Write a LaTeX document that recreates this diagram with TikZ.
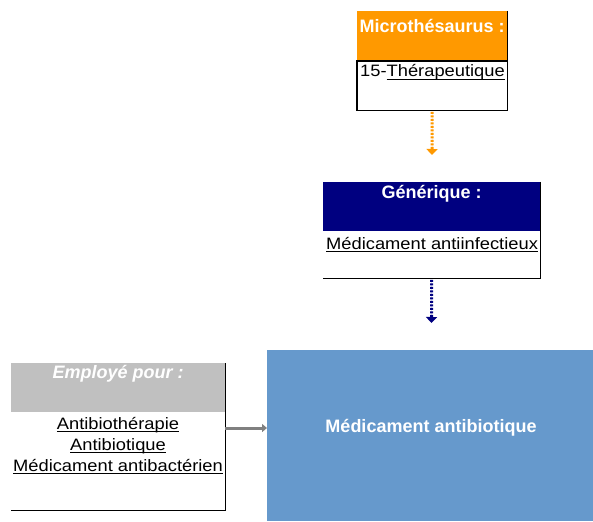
\documentclass[tikz,border=0pt]{standalone}
\usepackage{fontspec}
\setmainfont{Liberation Sans}
\newfontfamily\bodyfont[FakeStretch=1.11]{Liberation Sans}
\usetikzlibrary{arrows.meta}
\definecolor{mthorange}{HTML}{FF9900}
\definecolor{gennavy}{HTML}{000080}
\definecolor{empgray}{HTML}{C0C0C0}
\definecolor{mainblue}{HTML}{6699CC}
\definecolor{arrowgray}{HTML}{808080}
\newcommand\ulx[1]{\setbox0\hbox{#1}\rlap{\rule[-2.6pt]{\wd0}{0.9pt}}\box0}
\begin{document}
\begin{tikzpicture}[x=1pt,y=-1pt,
  headbox/.style={rectangle, inner sep=0pt, anchor=north west, text=white,
    font=\fontsize{18}{21}\selectfont\bfseries},
  bodybox/.style={rectangle, inner sep=0pt, anchor=north west, fill=white},
  bodytext/.style={inner sep=0pt, text=black, font=\bodyfont\fontsize{16.5}{19}\selectfont},
  frameline/.style={draw=black, line width=1.3pt},
  dotarrow/.style={line width=3pt, dash pattern=on 2pt off 1.5pt, shorten <=1.5pt,
    -{Triangle[width=11pt,length=6pt]}},
  solidarrow/.style={line width=3pt, draw=arrowgray,
    -{Triangle[width=8pt,length=5pt]}}
]
\useasboundingbox (0,0) rectangle (593,521);

% Microthesaurus
\node[headbox, fill=mthorange, minimum width=150pt, text height=21pt, text depth=29pt]
  (mhead) at (357,11) {Microthésaurus :};
\node[bodybox, minimum width=150pt, minimum height=49pt] (mbody) at (357,61) {};
\node[bodytext, anchor=base west] (mtext) at (360,77) {15-\ulx{Thérapeutique}};
\draw[frameline] (mbody.north west) rectangle (mbody.south east);
\draw[frameline] (mhead.north east) -- (mbody.north east);
\coordinate (mend) at (432,155);
\draw[dotarrow, draw=mthorange, fill=mthorange] (mbody.south) -- (mend);

% Generique
\node[headbox, fill=gennavy, minimum width=217pt, text height=16pt, text depth=33pt]
  (ghead) at (323,182) {Générique :};
\node[bodybox, minimum width=217pt, minimum height=47pt] (gbody) at (323,231) {};
\node[bodytext, anchor=base west] (gtext) at (326,249) {\ulx{Médicament antiinfectieux}};
\draw[frameline] (ghead.north east) -- (gbody.south east) -- (gbody.south west);
\coordinate (gend) at (431.5,323);
\draw[dotarrow, draw=gennavy, fill=gennavy] (gbody.south) -- (gend);

% Employe pour
\node[headbox, fill=empgray, minimum width=214pt, text height=15pt, text depth=34pt,
  font=\fontsize{18}{21}\selectfont\bfseries\itshape]
  (ehead) at (11,363) {Employé pour :};
\node[bodybox, minimum width=214pt, minimum height=98pt] (ebody) at (11,412) {};
\node[bodytext, anchor=base] (etext1) at (118,429) {\ulx{Antibiothérapie}};
\node[bodytext, anchor=base] (etext2) at (118,450) {\ulx{Antibiotique}};
\node[bodytext, anchor=base] (etext3) at (118,471) {\ulx{Médicament antibactérien}};
\draw[frameline] (ehead.north east) -- (ebody.south east) -- (ebody.south west);

% Main concept
\node[rectangle, inner sep=0pt, anchor=north west, fill=mainblue,
  minimum width=326pt, minimum height=171pt] (blue) at (267,350) {};
\node[inner sep=0pt, text=white, font=\fontsize{18}{21}\selectfont\bfseries]
  (btext) at (431,428) {Médicament antibiotique};
\draw[solidarrow, fill=arrowgray] (ebody.east |- btext.center) -- (blue.west |- btext.center);
\end{tikzpicture}
\end{document}
